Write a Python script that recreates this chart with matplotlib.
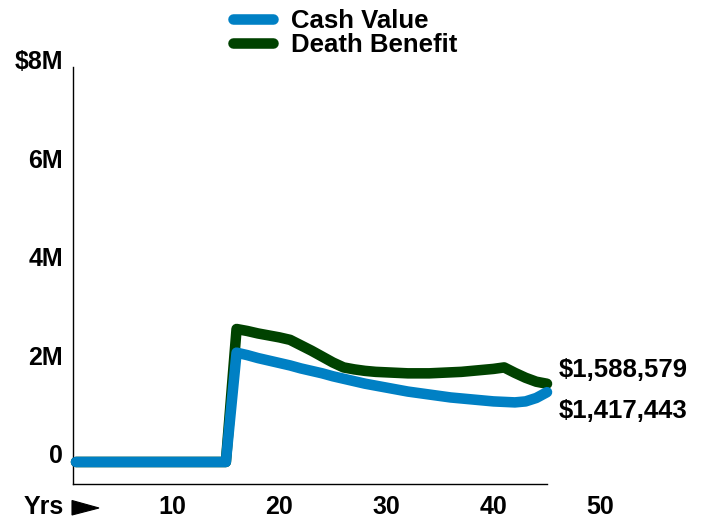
import matplotlib
matplotlib.use("Agg")
import matplotlib.pyplot as plt
from matplotlib.patches import Polygon
from matplotlib.transforms import ScaledTranslation

years = list(range(1, 46))
cash_value = [0]*15 + [2.22, 2.17, 2.11, 2.06, 2.01, 1.96, 1.90, 1.85, 1.80, 1.74,
                       1.69, 1.64, 1.59, 1.55, 1.51, 1.47, 1.43, 1.40, 1.37, 1.34,
                       1.31, 1.29, 1.27, 1.25, 1.23, 1.22, 1.21, 1.23, 1.30, 1.417443]
death_benefit = [0]*15 + [2.70, 2.66, 2.61, 2.57, 2.53, 2.48, 2.37, 2.26, 2.14, 2.02,
                          1.92, 1.88, 1.85, 1.83, 1.82, 1.81, 1.80, 1.80, 1.80, 1.81,
                          1.82, 1.83, 1.85, 1.87, 1.89, 1.92, 1.81, 1.71, 1.63, 1.588579]
cash_value = [v*1e6 for v in cash_value]
death_benefit = [v*1e6 for v in death_benefit]

y_ticks = [0, 2e6, 4e6, 6e6, 8e6]
y_tick_labels = ["0", "2M", "4M", "6M", "$8M"]
x_ticks = [10, 20, 30, 40, 50]
x_tick_labels = ["10", "20", "30", "40", "50"]
end_labels = ["$1,588,579", "$1,417,443"]

BLUE = "#0080c4"
GREEN = "#004200"
FONT = ["Liberation Sans", "DejaVu Sans"]
plt.rcParams["font.family"] = FONT
plt.rcParams["font.weight"] = "bold"

W, H = 709, 521
fig = plt.figure(figsize=(W/100, H/100), dpi=100)
left, right, bottom, top = 73, 547, 484, 67
ax = fig.add_axes([left/W, 1-bottom/H, (right-left)/W, (bottom-top)/H])

lw = 7.6
ax.plot(years, death_benefit, color=GREEN, lw=lw, solid_capstyle="round",
        solid_joinstyle="round", clip_on=False, label="Death Benefit", zorder=2)
ax.plot(years, cash_value, color=BLUE, lw=lw, solid_capstyle="round",
        solid_joinstyle="round", clip_on=False, label="Cash Value", zorder=3)

ax.set_xlim(0.72, 45)
ax.set_ylim(-0.447e6, 8.02e6)

for s in ["top", "right"]:
    ax.spines[s].set_visible(False)
for s in ["left", "bottom"]:
    ax.spines[s].set_linewidth(1.0)
    ax.spines[s].set_color("black")

ax.set_yticks(y_ticks)
ax.set_yticklabels(y_tick_labels, fontsize=18, fontweight="bold")
ax.tick_params(axis="y", length=0, pad=7.2)
off = ScaledTranslation(0, 8/100, fig.dpi_scale_trans)
for lab in ax.get_yticklabels():
    lab.set_transform(lab.get_transform() + off)

ax.set_xticks([])
xt = ax.get_xaxis_transform()
ylab = (bottom - 507.5) / (bottom - top)
for xv, txt in zip(x_ticks, x_tick_labels):
    ax.text(xv, ylab, txt, transform=xt, ha="center", va="center",
            fontsize=18, fontweight="bold", clip_on=False)

# "Yrs" marker at left of x axis
fig.text(64/W, 1-507.5/H, "Yrs", ha="right", va="center", fontsize=18,
         fontweight="bold")
tri = Polygon([(72/W, 1-500.5/H), (72/W, 1-515/H), (99/W, 1-508/H)],
              closed=True, transform=fig.transFigure, facecolor="black",
              edgecolor="black", lw=0.8)
fig.patches.append(tri)

# end value labels
fig.text(559/W, 1-370/H, end_labels[0], ha="left", va="center", fontsize=18.5,
         fontweight="bold")
fig.text(559/W, 1-411/H, end_labels[1], ha="left", va="center", fontsize=18.5,
         fontweight="bold")

handles, labels = ax.get_legend_handles_labels()
leg = fig.legend(handles[::-1], labels[::-1], loc="upper left",
                 bbox_to_anchor=(215/W, 1+9/H), frameon=False,
                 prop={"family": FONT, "weight": "bold", "size": 18.5},
                 handlelength=1.55, handletextpad=0.7, labelspacing=0.0,
                 borderpad=0.2)
for l in leg.get_lines():
    l.set_linewidth(lw)
    l.set_solid_capstyle("round")

fig.savefig("out.png", dpi=100)
